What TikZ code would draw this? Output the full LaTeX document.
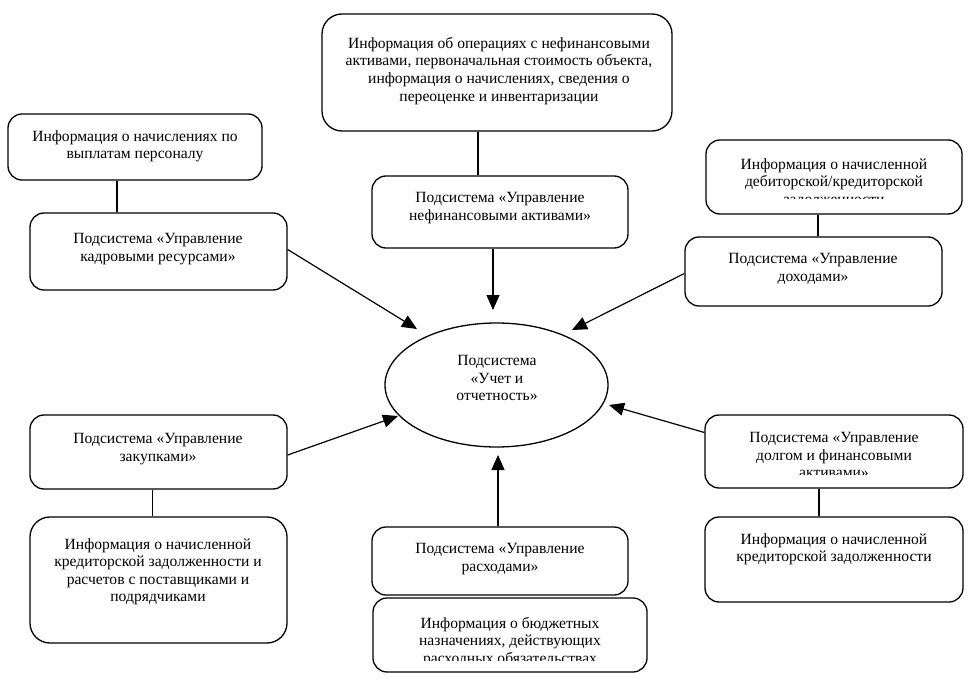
\documentclass[tikz,border=0pt]{standalone}
\usepackage{fontspec}
\setmainfont{Liberation Serif}
\usetikzlibrary{arrows.meta,shapes.geometric}
\tikzset{
  box/.style={draw=black, line width=1.3pt, rounded corners=14pt, inner sep=0pt, fill=white},
  bigbox/.style={box, rounded corners=20pt},
  txt/.style={align=center, inner sep=0pt, anchor=north, font=\fontsize{15.6}{17.6}\selectfont},
  link/.style={draw=black, line width=1.2pt},
  arr/.style={link, -{Triangle[length=15pt,width=13pt]}},
  oval/.style={draw=black, line width=1.3pt, ellipse, inner sep=0pt, minimum width=223pt, minimum height=124pt}
}
\newcommand{\mkbox}[6]{% style, name, x1, y1, x2, y2
  \node[#1, minimum width={(#5-#3)*1pt}, minimum height={(#6-#4)*1pt}] (#2) at ({(#3+#5)/2},{(#4+#6)/2}) {};}
\begin{document}
\begin{tikzpicture}[x=1pt,y=-1pt]
\useasboundingbox (0,0) rectangle (970,682);
\fill[white] (0,0) rectangle (970,682);

% boxes
\mkbox{bigbox}{TI}{322}{14}{672}{131}
\mkbox{box}{TS}{372}{176}{628}{248}
\mkbox{box}{LI1}{8}{114}{262}{180}
\mkbox{box}{LS1}{30}{213}{287}{290}
\mkbox{box}{RI1}{706}{140}{962}{214}
\mkbox{box}{RS1}{685}{237}{942}{306}
\mkbox{box}{LS2}{30}{415}{287}{489}
\mkbox{bigbox}{LI2}{30}{517}{287}{643}
\mkbox{box}{BS}{372}{527}{628}{595}
\mkbox{box}{BI}{373}{598}{647}{672}
\mkbox{box}{RS2}{705}{415}{963}{488}
\mkbox{box}{RI2}{705}{517}{963}{602}
\node[oval] (E) at (496.5,385) {};

% texts
\node[txt] (tTI) at (499,37) {Информация об операциях с нефинансовыми\\активами, первоначальная стоимость объекта,\\информация о начислениях, сведения о\\переоценке и инвентаризации};
\node[txt] (tTS) at (500,192) {Подсистема «Управление\\нефинансовыми активами»};
\node[txt] (tLI1) at (135,130) {Информация о начислениях по\\выплатам персоналу};
\node[txt] (tLS1) at (158,233) {Подсистема «Управление\\кадровыми ресурсами»};
\begin{scope}
\clip (706,140) rectangle (962,199);
\node[txt] (tRI1) at (834,158) {Информация о начисленной\\дебиторской/кредиторской\\задолженности};
\end{scope}
\node[txt] (tRS1) at (813,253) {Подсистема «Управление\\доходами»};
\node[txt] (tE) at (497,355) {Подсистема\\«Учет и\\отчетность»};
\node[txt] (tLS2) at (158,433) {Подсистема «Управление\\закупками»};
\node[txt] (tLI2) at (158,538) {Информация о начисленной\\кредиторской задолженности и\\расчетов с поставщиками и\\подрядчиками};
\node[txt] (tBS) at (500,543) {Подсистема «Управление\\расходами»};
\begin{scope}
\clip (373,598) rectangle (647,660);
\node[txt] (tBI) at (510,617) {Информация о бюджетных\\назначениях, действующих\\расходных обязательствах};
\end{scope}
\begin{scope}
\clip (705,415) rectangle (963,474);
\node[txt] (tRS2) at (834,432) {Подсистема «Управление\\долгом и финансовыми\\активами»};
\end{scope}
\node[txt] (tRI2) at (834,533) {Информация о начисленной\\кредиторской задолженности};

% arrow tips
\coordinate (aTS) at (493,310);
\coordinate (aLS1) at (417,329);
\coordinate (aRS1) at (572,330);
\coordinate (aLS2) at (398,416);
\coordinate (aRS2) at (609,405);
\coordinate (aBS) at (498,455);

% plain connectors
\draw[link] ([xshift=-22pt]TS.north) -- ([xshift=-22pt]TS.north |- TI.south);
\draw[link] ([xshift=-18pt]LI1.south) -- ([xshift=-18pt]LI1.south |- LS1.north);
\draw[link] ([xshift=-16pt]RI1.south) -- ([xshift=-16pt]RI1.south |- RS1.north);
\draw[link] ([xshift=-6pt]LS2.south) -- ([xshift=-6pt]LS2.south |- LI2.north);
\draw[link] ([xshift=-15pt]RS2.south) -- ([xshift=-15pt]RS2.south |- RI2.north);

% arrows
\draw[arr] ([xshift=-7pt]TS.south) -- (aTS);
\draw[arr] ([yshift=2pt]LS1.east) -- (aLS1);
\draw[arr] ([yshift=-2pt]RS1.west) -- (aRS1);
\draw[arr] ([yshift=-3pt]LS2.east) -- (aLS2);
\draw[arr] ([yshift=19pt]RS2.west) -- (aRS2);
\draw[arr] ([xshift=-2pt]BS.north) -- (aBS);
\end{tikzpicture}
\end{document}
